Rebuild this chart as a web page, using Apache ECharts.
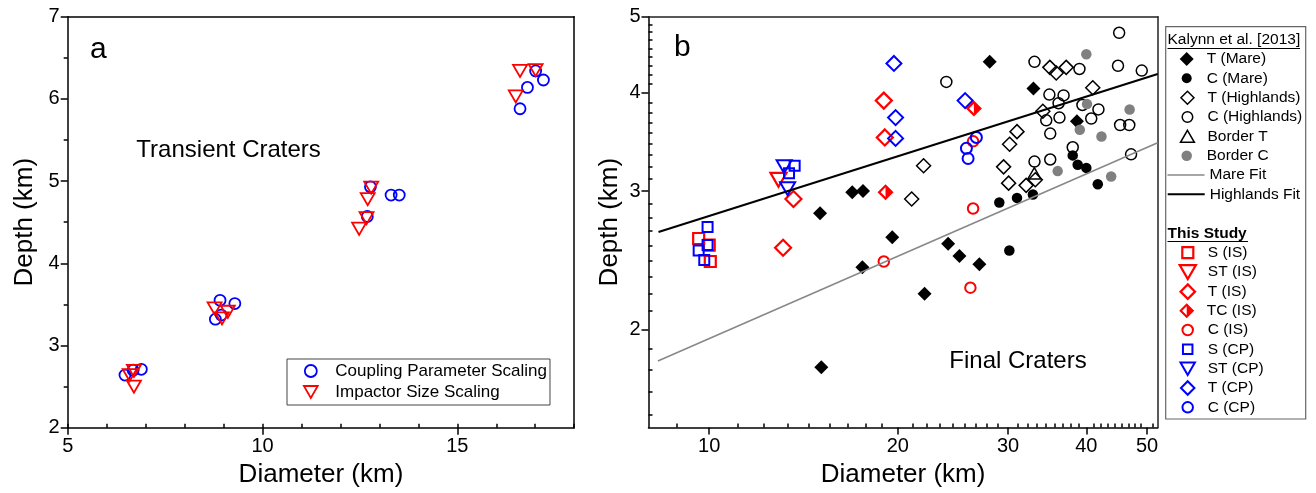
<!DOCTYPE html>
<html>
<head>
<meta charset="utf-8">
<script src="https://cdn.jsdelivr.net/npm/echarts@6/dist/echarts.min.js"></script>
<style>
html, body { margin: 0; padding: 0; background: #fff; }
#chart { width: 1316px; height: 493px; }
</style>
</head>
<body>
<div id="chart"></div>
<script>
// ---- panel a : transient craters, [diameter km, depth km] ----
const couplingScaling = [
  [6.47, 2.64], [6.68, 2.70], [6.89, 2.71],
  [8.79, 3.32], [8.91, 3.55], [9.29, 3.51], [8.94, 3.37],
  [12.69, 4.57], [12.77, 4.93], [13.30, 4.83], [13.51, 4.83],
  [16.61, 5.88], [16.80, 6.14], [17.01, 6.34], [17.21, 6.23]
];
const impactorScaling = [
  [6.59, 2.64], [6.70, 2.69], [6.70, 2.50],
  [8.77, 3.45], [8.96, 3.33], [9.11, 3.41],
  [12.48, 4.42], [12.67, 4.55], [12.70, 4.78], [12.79, 4.92],
  [16.50, 6.03], [16.61, 6.34], [17.01, 6.35]
];

// ---- panel b : final craters ----
const tMare = [
  [15.03, 2.81], [16.92, 2.99], [17.60, 3.00], [19.60, 2.62], [17.56, 2.40],
  [15.10, 1.79], [24.07, 2.57], [25.09, 2.48], [27.00, 2.42], [22.07, 2.22],
  [28.04, 4.38], [32.93, 4.05], [38.64, 3.68]
];
const cMare = [
  [29.05, 2.90], [31.00, 2.94], [32.87, 2.97], [30.14, 2.52],
  [38.05, 3.33], [38.75, 3.24], [40.00, 3.21], [41.72, 3.06]
];
const tHighlands = [
  [21.05, 2.93], [21.99, 3.23], [34.98, 4.31], [35.81, 4.24], [37.15, 4.31],
  [40.96, 4.06], [34.09, 3.79], [31.00, 3.57], [30.17, 3.44], [29.51, 3.22],
  [30.06, 3.07], [32.06, 3.05], [33.16, 3.10]
];
const cHighlands = [
  [23.91, 4.13], [33.06, 4.38], [34.92, 3.98], [36.79, 3.97], [36.12, 3.88],
  [36.24, 3.72], [34.52, 3.69], [35.03, 3.55], [33.06, 3.27], [35.03, 3.29],
  [38.05, 3.41], [39.00, 4.29], [39.43, 3.86], [40.73, 3.71], [41.82, 3.81],
  [44.94, 4.33], [45.13, 4.77], [49.04, 4.27], [45.29, 3.64], [46.84, 3.64],
  [47.15, 3.34]
];
const borderT = [[33.04, 3.16]];
const borderC = [
  [40.00, 4.48], [40.10, 3.87], [39.05, 3.59], [42.29, 3.52],
  [46.90, 3.81], [36.00, 3.18], [43.82, 3.13]
];
const mareFit = [[8.28, 1.823], [52, 3.456]];
const highlandsFit = [[8.30, 2.66], [52, 4.228]];

const sIS = [[9.62, 2.61], [10.00, 2.56], [10.04, 2.44]];
const stIS = [[12.90, 3.10]];
const tIS = [[19.00, 3.91], [19.07, 3.51], [13.63, 2.93], [13.12, 2.54]];
const tcIS = [[19.12, 2.99], [26.46, 3.82]];
const cIS = [[26.38, 3.47], [26.38, 2.85], [19.00, 2.44], [26.12, 2.26]];
const sCP = [[9.94, 2.70], [9.94, 2.56], [9.62, 2.52], [9.82, 2.45], [13.69, 3.23], [13.41, 3.16]];
const stCP = [[13.17, 3.22], [13.34, 3.02]];
const tCP = [[19.72, 4.36], [19.84, 3.72], [19.84, 3.50], [25.62, 3.91]];
const cCP = [[26.70, 3.51], [25.74, 3.40], [25.90, 3.30]];

// tick values
const xMajorB = [10, 20, 30, 40, 50];
const yMajorB = [2, 3, 4, 5];
// 8 minor ticks evenly spaced inside each major step (Origin style)
function minorTicks(step, first, last, lo, hi) {
  const out = [];
  for (let base = first; base <= last; base += step) {
    for (let k = 1; k <= 8; k++) {
      const v = base + k * step / 9;
      if (v >= lo && v <= hi) out.push(+v.toFixed(4));
    }
  }
  return out;
}
const xMinorB = minorTicks(10, 0, 50, 8, 52);
const yMinorB = minorTicks(1, 1, 4, 1.5, 5);

const FONT = 'Liberation Sans, Arial, Helvetica, sans-serif';
const BLUE = '#0000ff', RED = '#ff0000';
const SYM = {
  diamond: 'path://M10,0L20,10L10,20L0,10Z',
  square: 'path://M0,0L20,0L20,20L0,20Z',
  triUp: 'path://M10,0L20,17.32L0,17.32Z',
  triDown: 'path://M0,0L20,0L10,17.32Z',
  halfDiamond: 'path://M10,0L20,10L10,20L0,10Z M10,4L4,10L10,16Z'
};

function open(color, w) {
  return { color: 'rgba(0,0,0,0)', borderColor: color, borderWidth: w, opacity: 1 };
}
function filled(color) {
  return { color: color, borderWidth: 0, opacity: 1 };
}
function scatterB(name, data, symbol, size, itemStyle) {
  return {
    name: name, type: 'scatter', xAxisIndex: 2, yAxisIndex: 1,
    data: data, symbol: symbol, symbolSize: size, symbolKeepAspect: true,
    itemStyle: itemStyle, emphasis: { disabled: true }, silent: true
  };
}

function tickText() { return { color: '#000', fontSize: 20, fontFamily: FONT }; }
function nameText() { return { color: '#000', fontSize: 26, fontFamily: FONT }; }
function axisLine(color) { return { show: true, onZero: false, lineStyle: { color: color || '#000', width: 1.5 } }; }
function ticks(len, custom) {
  const t = { show: true, inside: false, length: len, lineStyle: { color: '#000', width: 1.5 } };
  if (custom) t.customValues = custom;
  return t;
}
const legendText = { color: '#000', fontSize: 15.5, fontFamily: FONT };

// plain axis used only to draw the top / right edge of a frame
function frameAxis(gridIndex, position, color) {
  return {
    type: 'value', gridIndex: gridIndex, position: position, min: 0, max: 1,
    axisLine: axisLine(color),
    axisTick: { show: false }, axisLabel: { show: false }, splitLine: { show: false }
  };
}

// legend rows of panel b: [series name, row centre y, icon height]
const legendRowsB = [
  ['T (Mare)', 59, 14], ['C (Mare)', 78.3, 10], ['T (Highlands)', 97.7, 13],
  ['C (Highlands)', 117, 10.5], ['Border T', 136.3, 12], ['Border C', 155.7, 10.5],
  ['Mare Fit', 175, 12], ['Highlands Fit', 194.3, 12],
  ['S (IS)', 252.7, 11], ['ST (IS)', 272, 14], ['T (IS)', 291.3, 14.5], ['TC (IS)', 310.7, 15],
  ['C (IS)', 330, 10.5], ['S (CP)', 349.3, 9.5], ['ST (CP)', 368.7, 12.5], ['T (CP)', 388, 13.5],
  ['C (CP)', 407.3, 10.5]
];
const iconCentreB = 1186.7;
const legendsB = legendRowsB.map(function (r) {
  const isLine = r[0].indexOf('Fit') > 0;
  const h = r[2];
  const w = r[0].indexOf('ST') === 0 || r[0] === 'Border T' ? h * 1.155 : h;
  return {
    orient: 'vertical', top: r[1] - 8, padding: 0, selectedMode: false,
    left: isLine ? 1166.7 : iconCentreB - w / 2,
    itemWidth: isLine ? 37 : 30, itemHeight: h,
    itemStyle: isLine ? { opacity: 0 } : { borderWidth: 'inherit' },
    lineStyle: { width: 'inherit' },
    textStyle: legendText, data: [r[0]]
  };
});

const chart = echarts.init(document.getElementById('chart'), null, { renderer: 'canvas' });

chart.setOption({
  animation: false,
  backgroundColor: '#fff',
  grid: [
    { left: 67.7, top: 16.7, width: 506.5, height: 411 },
    { left: 648.5, top: 16.7, width: 509.2, height: 410.8 }
  ],
  xAxis: [
    { type: 'value', gridIndex: 0, min: 5, max: 18, interval: 5,
      axisLine: axisLine(), axisTick: ticks(7),
      axisLabel: Object.assign({ margin: 9, showMaxLabel: false }, tickText()),
      splitLine: { show: false },
      name: 'Diameter (km)', nameLocation: 'middle', nameGap: 32, nameTextStyle: nameText() },
    { type: 'value', gridIndex: 0, min: 5, max: 18, interval: 1,
      axisLine: { show: false }, axisTick: ticks(4),
      axisLabel: { show: false }, splitLine: { show: false } },
    { type: 'log', gridIndex: 1, min: 8, max: 52,
      axisLine: axisLine(), axisTick: ticks(7, xMajorB),
      axisLabel: Object.assign({ margin: 9, customValues: xMajorB }, tickText()),
      splitLine: { show: false },
      name: 'Diameter (km)', nameLocation: 'middle', nameGap: 32, nameTextStyle: nameText() },
    { type: 'log', gridIndex: 1, min: 8, max: 52,
      axisLine: { show: false }, axisTick: ticks(4, xMinorB),
      axisLabel: { show: false }, splitLine: { show: false } },
    frameAxis(0, 'top', '#000'),
    frameAxis(1, 'top', '#222')
  ],
  yAxis: [
    { type: 'value', gridIndex: 0, min: 2, max: 7, interval: 1,
      axisLine: axisLine(), axisTick: ticks(7),
      minorTick: { show: true, splitNumber: 2, length: 4, lineStyle: { color: '#000', width: 1.5 } },
      axisLabel: Object.assign({ margin: 8 }, tickText()),
      splitLine: { show: false }, minorSplitLine: { show: false },
      name: 'Depth (km)', nameLocation: 'middle', nameGap: 30, nameTextStyle: nameText() },
    { type: 'log', gridIndex: 1, min: 1.5, max: 5,
      axisLine: axisLine(), axisTick: ticks(7, yMajorB),
      axisLabel: Object.assign({ margin: 8, customValues: yMajorB }, tickText()),
      splitLine: { show: false },
      name: 'Depth (km)', nameLocation: 'middle', nameGap: 26, nameTextStyle: nameText() },
    { type: 'log', gridIndex: 1, min: 1.5, max: 5,
      axisLine: { show: false }, axisTick: ticks(4, yMinorB),
      axisLabel: { show: false }, splitLine: { show: false } },
    frameAxis(0, 'right', '#000'),
    frameAxis(1, 'right', '#222')
  ],
  legend: [
    { orient: 'vertical', left: 287, top: 359, itemWidth: 39, itemHeight: 12, itemGap: 4,
      padding: [3.5, 3, 4.5, 16], borderColor: '#444', borderWidth: 1, selectedMode: false,
      itemStyle: { borderWidth: 'inherit' },
      textStyle: { color: '#000', fontSize: 17, fontFamily: FONT },
      data: ['Coupling Parameter Scaling', 'Impactor Size Scaling'] }
  ].concat(legendsB),
  graphic: [
    { type: 'text', left: 90, top: 35, style: { text: 'a', fontSize: 30, fontFamily: FONT, fill: '#000' } },
    { type: 'text', x: 228.6, y: 150, style: { text: 'Transient Craters', fontSize: 24, fontFamily: FONT,
      fill: '#000', align: 'center', verticalAlign: 'middle' } },
    { type: 'text', left: 674, top: 33, style: { text: 'b', fontSize: 30, fontFamily: FONT, fill: '#000' } },
    { type: 'text', x: 1018, y: 361, style: { text: 'Final Craters', fontSize: 24, fontFamily: FONT,
      fill: '#000', align: 'center', verticalAlign: 'middle' } },
    { type: 'rect', shape: { x: 1165.7, y: 26.7, width: 140, height: 392.3 },
      style: { fill: 'none', stroke: '#666', lineWidth: 1.2 } },
    { type: 'text', x: 1167.5, y: 40, style: { text: 'Kalynn et al. [2013]', fontSize: 15.5, fontFamily: FONT,
      fill: '#000', align: 'left', verticalAlign: 'middle' } },
    { type: 'line', shape: { x1: 1167.5, y1: 48.5, x2: 1300, y2: 48.5 }, style: { stroke: '#000', lineWidth: 1 } },
    { type: 'text', x: 1167.5, y: 233.3, style: { text: 'This Study', fontSize: 15.5, fontWeight: 'bold',
      fontFamily: FONT, fill: '#000', align: 'left', verticalAlign: 'middle' } },
    { type: 'line', shape: { x1: 1167.5, y1: 241.5, x2: 1248, y2: 241.5 }, style: { stroke: '#000', lineWidth: 1 } }
  ],
  series: [
    { name: 'Coupling Parameter Scaling', type: 'scatter', xAxisIndex: 0, yAxisIndex: 0,
      data: couplingScaling, symbol: 'circle', symbolSize: 11, itemStyle: open(BLUE, 1.8),
      emphasis: { disabled: true }, silent: true },
    { name: 'Impactor Size Scaling', type: 'scatter', xAxisIndex: 0, yAxisIndex: 0,
      data: impactorScaling, symbol: SYM.triDown, symbolSize: 14, symbolKeepAspect: true,
      itemStyle: open(RED, 1.8), emphasis: { disabled: true }, silent: true },

    { name: 'Mare Fit', type: 'line', xAxisIndex: 2, yAxisIndex: 1, data: mareFit, symbol: 'none',
      lineStyle: { color: '#888', width: 1.6 }, itemStyle: { color: '#888' }, silent: true },
    { name: 'Highlands Fit', type: 'line', xAxisIndex: 2, yAxisIndex: 1, data: highlandsFit, symbol: 'none',
      lineStyle: { color: '#000', width: 2 }, itemStyle: { color: '#000' }, silent: true },

    scatterB('T (Mare)', tMare, SYM.diamond, 14, filled('#000')),
    scatterB('C (Mare)', cMare, 'circle', 10.5, filled('#000')),
    scatterB('T (Highlands)', tHighlands, SYM.diamond, 14, open('#000', 1.5)),
    scatterB('C (Highlands)', cHighlands, 'circle', 11, open('#000', 1.5)),
    scatterB('Border T', borderT, SYM.triUp, 13, open('#000', 1.5)),
    scatterB('Border C', borderC, 'circle', 10.5, filled('#808080')),

    scatterB('S (IS)', sIS, SYM.square, 11, open(RED, 2.2)),
    scatterB('ST (IS)', stIS, SYM.triDown, 16, open(RED, 2.2)),
    scatterB('T (IS)', tIS, SYM.diamond, 16, open(RED, 2.2)),
    scatterB('TC (IS)', tcIS, SYM.halfDiamond, 16, filled(RED)),
    scatterB('C (IS)', cIS, 'circle', 10.5, open(RED, 2)),
    scatterB('S (CP)', sCP, SYM.square, 10, open(BLUE, 2)),
    scatterB('ST (CP)', stCP, SYM.triDown, 15, open(BLUE, 2)),
    scatterB('T (CP)', tCP, SYM.diamond, 15, open(BLUE, 2)),
    scatterB('C (CP)', cCP, 'circle', 11, open(BLUE, 2))
  ]
});
</script>
</body>
</html>
